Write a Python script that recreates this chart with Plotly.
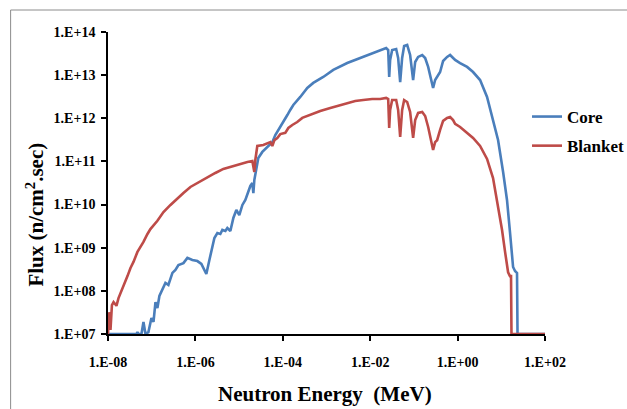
import plotly.graph_objects as go

# ---------------- data ----------------
core_energy = [
    1.0e-8, 4.48e-8, 4.72e-8, 4.98e-8, 5.83e-8, 6.48e-8, 7.2e-8, 8.4e-8, 9.86e-8, 1.10e-7,
    1.22e-7, 1.35e-7, 1.50e-7, 1.76e-7, 2.06e-7, 2.41e-7, 2.98e-7, 3.49e-7, 4.09e-7, 5.32e-7,
    6.56e-7, 8.53e-7, 1.11e-6, 1.37e-6, 1.78e-6, 2.09e-6, 2.32e-6, 2.72e-6, 3.18e-6, 3.72e-6,
    4.14e-6, 4.85e-6, 5.38e-6, 6.31e-6, 7.39e-6, 8.65e-6, 1.01e-5, 1.19e-5, 1.39e-5, 1.63e-5,
    1.81e-5, 2.01e-5, 2.12e-5, 2.23e-5, 2.48e-5, 2.75e-5, 3.40e-5, 4.42e-5, 5.75e-5, 6.74e-5,
    8.77e-5, 1.03e-4, 1.27e-4, 1.48e-4, 1.74e-4, 2.51e-4, 3.63e-4, 4.98e-4, 8.43e-4, 1.43e-3,
    2.98e-3, 5.9e-3, 1.0e-2, 1.69e-2, 2.32e-2, 2.58e-2, 2.72e-2, 2.86e-2, 3.18e-2, 3.93e-2,
    4.36e-2, 4.85e-2, 5.38e-2, 5.98e-2, 7.01e-2, 8.2e-2, 9.6e-2, 0.107, 0.125, 0.155,
    0.181, 0.212, 0.248, 0.275, 0.306, 0.340, 0.398, 0.466, 0.575, 0.674,
    0.789, 0.877, 1.14, 1.65, 2.26, 3.27, 4.72, 6.47, 8.43, 11.0,
    13.5, 15.8, 17.6, 18.6, 20.6, 22.9, 23.5, 100.0,
]
core_flux = [
    1.0e7, 1.0e7, 1.11e7, 1.0e7, 1.0e7, 1.9e7, 1.0e7, 1.1e7, 2.35e7, 1.9e7,
    5.5e7, 4.0e7, 7.6e7, 1.05e8, 1.52e8, 1.37e8, 2.6e8, 3.05e8, 3.97e8, 4.4e8,
    5.8e8, 5.2e8, 4.9e8, 4.2e8, 2.46e8, 5.2e8, 8.9e8, 1.68e9, 2.19e9, 2.08e9,
    2.58e9, 2.44e9, 2.87e9, 2.44e9, 4.9e9, 7.5e9, 5.7e9, 9.8e9, 1.28e10, 2.18e10,
    2.7e10, 3.16e10, 1.85e10, 3.7e10, 7.05e10, 1.2e11, 1.66e11, 2.16e11, 2.8e11, 4.1e11,
    6.6e11, 8.2e11, 1.19e12, 1.56e12, 2.03e12, 3.12e12, 5.04e12, 6.6e12, 9.06e12, 1.32e13,
    1.91e13, 2.5e13, 3.1e13, 3.83e13, 4.26e13, 3.83e13, 9.06e12, 2.25e13, 3.83e13, 4.04e13,
    2.5e13, 6.9e12, 2.5e13, 4.74e13, 5.0e13, 2.93e13, 7.7e12, 2.02e13, 2.64e13, 2.93e13,
    2.5e13, 1.55e13, 7.7e12, 5.04e12, 7.7e12, 9.06e12, 1.18e13, 2.13e13, 2.64e13, 2.93e13,
    2.5e13, 2.25e13, 1.91e13, 1.55e13, 1.18e13, 7.7e12, 3.12e12, 9.6e11, 3.14e11, 5.7e10,
    1.28e10, 2.31e9, 6.8e8, 3.57e8, 2.88e8, 2.6e8, 1.0e7, 1.0e7,
]

blanket_energy = [
    1.0e-8, 1.05e-8, 1.14e-8, 1.23e-8, 1.34e-8, 1.56e-8, 1.74e-8, 2.04e-8, 2.38e-8, 2.79e-8,
    3.27e-8, 3.83e-8, 4.72e-8, 5.53e-8, 6.48e-8, 8.0e-8, 9.35e-8, 1.35e-7, 1.86e-7, 2.69e-7,
    3.88e-7, 5.32e-7, 7.69e-7, 1.30e-6, 1.88e-6, 2.86e-6, 4.36e-6, 7.0e-6, 1.07e-5, 1.55e-5,
    2.01e-5, 2.23e-5, 2.35e-5, 2.61e-5, 3.58e-5, 5.18e-5, 5.75e-5, 6.4e-5, 7.48e-5, 8.77e-5,
    1.14e-4, 1.34e-4, 1.65e-4, 2.14e-4, 2.79e-4, 3.63e-4, 4.98e-4, 7.19e-4, 1.22e-3, 2.06e-3,
    2.98e-3, 4.54e-3, 6.92e-3, 1.11e-2, 1.69e-2, 2.32e-2, 2.58e-2, 2.72e-2, 2.86e-2, 3.18e-2,
    3.93e-2, 4.36e-2, 4.85e-2, 5.38e-2, 5.98e-2, 7.01e-2, 8.2e-2, 9.6e-2, 0.107, 0.125,
    0.155, 0.181, 0.212, 0.248, 0.275, 0.306, 0.340, 0.398, 0.466, 0.575,
    0.674, 0.789, 0.877, 1.14, 1.65, 2.26, 3.27, 4.72, 6.47, 8.43,
    10.4, 12.2, 14.3, 15.8, 16.7, 17.1, 100.0,
]
blanket_flux = [
    1.0e7, 3.2e7, 1.24e7, 4.7e7, 5.5e7, 4.5e7, 6.8e7, 9.9e7, 1.44e8, 2.2e8,
    3.4e8, 4.7e8, 8.0e8, 1.04e9, 1.36e9, 2.08e9, 2.7e9, 4.2e9, 6.7e9, 9.8e9,
    1.42e10, 1.85e10, 2.56e10, 3.5e10, 4.4e10, 5.4e10, 6.7e10, 7.8e10, 8.7e10, 9.7e10,
    1.02e11, 5.7e10, 1.08e11, 2.28e11, 2.4e11, 2.8e11, 2.28e11, 3.1e11, 3.5e11, 4.3e11,
    4.6e11, 5.96e11, 7.0e11, 8.2e11, 1.02e12, 1.13e12, 1.33e12, 1.48e12, 1.73e12, 2.03e12,
    2.26e12, 2.52e12, 2.65e12, 2.8e12, 2.8e12, 2.96e12, 2.8e12, 6.0e11, 1.56e12, 2.65e12,
    2.65e12, 1.56e12, 3.7e11, 1.56e12, 2.65e12, 2.39e12, 1.40e12, 3.5e11, 9.1e11, 1.33e12,
    1.40e12, 1.13e12, 6.3e11, 3.1e11, 1.84e11, 2.8e11, 3.1e11, 5.4e11, 8.7e11, 1.02e12,
    1.07e12, 9.1e11, 7.4e11, 6.3e11, 4.6e11, 3.5e11, 2.28e11, 1.14e11, 4.1e10, 9.8e9,
    2.58e9, 8.0e8, 2.7e8, 2.2e8, 2.2e8, 1.0e7, 1.0e7,
]

x_tickvals = [1e-8, 1e-6, 1e-4, 1e-2, 1e0, 1e2]
x_ticktext = ["1.E-08", "1.E-06", "1.E-04", "1.E-02", "1.E+00", "1.E+02"]
y_tickvals = [1e7, 1e8, 1e9, 1e10, 1e11, 1e12, 1e13, 1e14]
y_ticktext = ["1.E+07", "1.E+08", "1.E+09", "1.E+10", "1.E+11", "1.E+12", "1.E+13", "1.E+14"]

series_names = ["Core", "Blanket"]
x_title = "Neutron Energy \u00a0(MeV)"
y_title = "Flux (n/cm<sup>2</sup>.sec)"

# ---------------- figure ----------------
SERIF = "Liberation Serif"
fig = go.Figure()
fig.add_trace(go.Scatter(x=core_energy, y=core_flux, mode="lines", name=series_names[0],
                         legendgroup="a",
                         line=dict(color="#4A7EBB", width=2.6)))
fig.add_trace(go.Scatter(x=blanket_energy, y=blanket_flux, mode="lines", name=series_names[1],
                         legendgroup="b",
                         line=dict(color="#BE4B48", width=2.6)))

W, H = 627, 409
L, R, T, B = 107.5, 82, 32, 75
pw, ph = W - L - R, H - T - B


def px(x):
    return (x - L) / pw


def py(y):
    return (H - B - y) / ph


fig.update_layout(
    width=W, height=H,
    margin=dict(l=L, r=R, t=T, b=B, pad=0, autoexpand=False),
    paper_bgcolor="white", plot_bgcolor="white",
    font=dict(family=SERIF, color="black"),
    showlegend=True,
    legend=dict(x=px(527), y=py(99), xanchor="left", yanchor="top",
                font=dict(family=SERIF, size=17, weight="bold"),
                bgcolor="rgba(0,0,0,0)", tracegroupgap=4, itemwidth=30),
    xaxis=dict(type="log", range=[-8, 2], tickvals=x_tickvals, ticktext=x_ticktext,
               showgrid=False, zeroline=False, showline=True, linecolor="black", linewidth=1.5,
               ticks="outside", ticklen=5, tickcolor="black", tickwidth=1.5,
               ticklabelstandoff=9,
               tickfont=dict(family=SERIF, size=14, weight="bold")),
    yaxis=dict(type="log", range=[7, 14], tickvals=y_tickvals, ticktext=y_ticktext,
               showgrid=False, zeroline=False, showline=True, linecolor="black", linewidth=1.5,
               ticks="outside", ticklen=5, tickcolor="black", tickwidth=1.5,
               ticklabelstandoff=3,
               tickfont=dict(family=SERIF, size=14, weight="bold")),
    annotations=[
        dict(text=x_title, xref="paper", yref="paper", x=px(325), y=py(394),
             xanchor="center", yanchor="middle", showarrow=False,
             font=dict(family=SERIF, size=21, weight="bold")),
        dict(text=y_title, xref="paper", yref="paper", x=px(34), y=py(215),
             xanchor="center", yanchor="middle", showarrow=False, textangle=-90,
             font=dict(family=SERIF, size=21, weight="bold")),
    ],
    shapes=[
        dict(type="rect", xref="paper", yref="paper", x0=px(10), y0=py(420), x1=px(640), y1=py(10),
             line=dict(color="#8C8C8C", width=1), fillcolor="rgba(0,0,0,0)", layer="below"),
    ],
)

fig.write_html("out.html",
               config={"displayModeBar": False},
               post_script="document.body.style.margin='0';document.body.style.overflow='hidden';")
